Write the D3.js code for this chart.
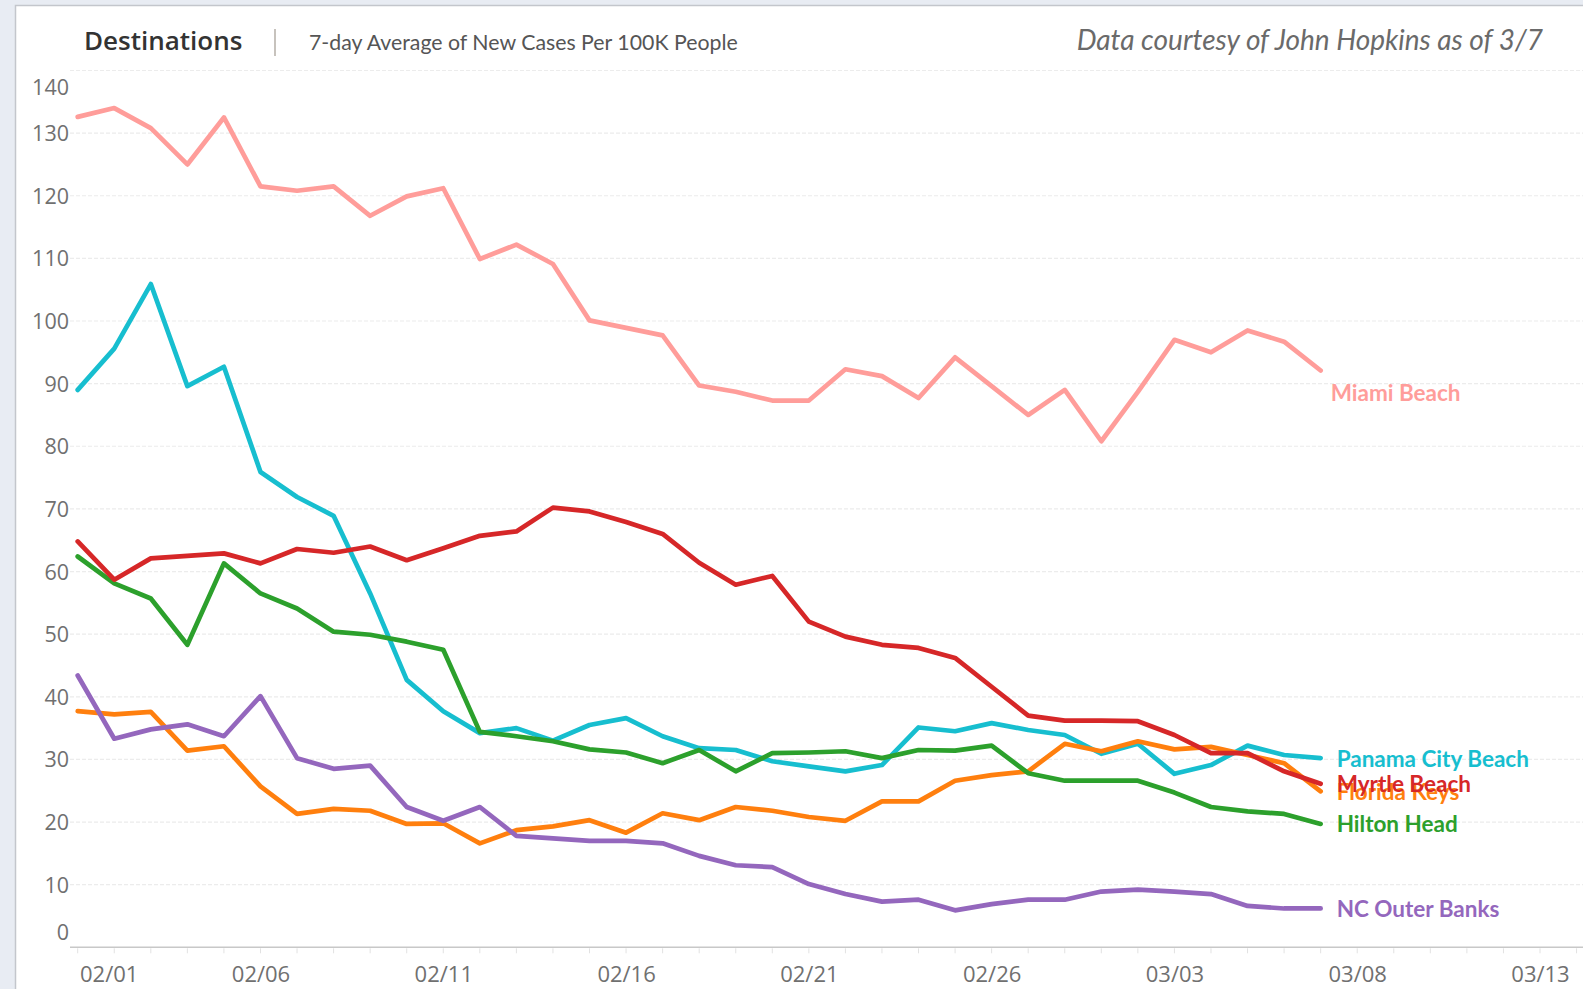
<!DOCTYPE html>
<html>
<head>
<meta charset="utf-8">
<script src="https://cdn.jsdelivr.net/npm/d3@7"></script>
<style>
    body { margin: 0; background: #e8ecf3; overflow: hidden; }
    #chart { width: 1583px; height: 989px; }
</style>
</head>
<body>
<div id="chart"></div>
<script>
// variables definition
const width = 1583
const height = 989
const margin = {
    top: 70.5,
    bottom: 41.7,
    left: 77.7,
    right: 43
}

// data
const dates = ["02/01","02/02","02/03","02/04","02/05","02/06","02/07","02/08","02/09","02/10",
    "02/11","02/12","02/13","02/14","02/15","02/16","02/17","02/18","02/19","02/20",
    "02/21","02/22","02/23","02/24","02/25","02/26","02/27","02/28","03/01","03/02",
    "03/03","03/04","03/05","03/06","03/07"]
const xTickLabels = ["02/01","02/06","02/11","02/16","02/21","02/26","03/03","03/08","03/13"]
const yTicks = [0, 10, 20, 30, 40, 50, 60, 70, 80, 90, 100, 110, 120, 130, 140]

const destinations = ["Panama City Beach", "Florida Keys", "Hilton Head", "Myrtle Beach", "NC Outer Banks", "Miami Beach"]
const colors = ["#17becf", "#ff7f0e", "#2ca02c", "#d62728", "#9467bd", "#ff9d9a"]

const panamaCityBeach = [89.0, 95.6, 105.9, 89.6, 92.7, 75.9, 71.9, 68.9, 56.5, 42.7, 37.7, 34.2, 35.0, 33.0, 35.5, 36.6, 33.7, 31.8, 31.5, 29.7, 28.9, 28.1, 29.1, 35.1, 34.5, 35.8, 34.7, 33.9, 30.9, 32.5, 27.7, 29.1, 32.2, 30.7, 30.2]
const floridaKeys = [37.7, 37.2, 37.6, 31.4, 32.1, 25.7, 21.3, 22.1, 21.8, 19.7, 19.8, 16.6, 18.7, 19.3, 20.3, 18.3, 21.4, 20.3, 22.4, 21.8, 20.8, 20.2, 23.3, 23.3, 26.6, 27.5, 28.1, 32.5, 31.3, 32.9, 31.6, 32.0, 30.7, 29.4, 24.9]
const hiltonHead = [62.4, 58.1, 55.7, 48.3, 61.3, 56.5, 54.1, 50.4, 49.9, 48.8, 47.5, 34.4, 33.7, 32.9, 31.6, 31.1, 29.4, 31.5, 28.1, 31.0, 31.1, 31.3, 30.2, 31.5, 31.4, 32.2, 27.8, 26.6, 26.6, 26.6, 24.7, 22.4, 21.7, 21.3, 19.7]
const myrtleBeach = [64.8, 58.7, 62.1, 62.5, 62.9, 61.3, 63.6, 63.0, 64.0, 61.8, 63.7, 65.7, 66.4, 70.2, 69.6, 67.9, 66.0, 61.4, 57.9, 59.3, 52.0, 49.6, 48.3, 47.8, 46.2, 41.6, 37.0, 36.2, 36.2, 36.1, 33.9, 31.0, 31.0, 28.1, 26.1]
const ncOuterBanks = [43.4, 33.3, 34.8, 35.6, 33.7, 40.1, 30.2, 28.5, 29.0, 22.4, 20.2, 22.4, 17.8, 17.4, 17.0, 17.0, 16.6, 14.6, 13.1, 12.8, 10.1, 8.5, 7.3, 7.6, 5.9, 6.9, 7.6, 7.6, 8.9, 9.2, 8.9, 8.5, 6.6, 6.2, 6.2]
const miamiBeach = [132.6, 134.0, 130.8, 125.0, 132.5, 121.5, 120.8, 121.5, 116.8, 119.9, 121.2, 109.9, 112.2, 109.1, 100.1, 98.9, 97.7, 89.7, 88.7, 87.3, 87.3, 92.3, 91.2, 87.7, 94.2, 89.6, 85.0, 89.0, 80.8, 88.7, 97.0, 95.0, 98.5, 96.7, 92.1]

const seriesValues = [panamaCityBeach, floridaKeys, hiltonHead, myrtleBeach, ncOuterBanks, miamiBeach]

// "MM/DD" -> date in 2021
const parseDay = s => new Date(Date.UTC(2021, +s.slice(0, 2) - 1, +s.slice(3, 5)))

const series = destinations.map((name, i) => ({
    name: name,
    color: colors[i],
    values: seriesValues[i].map((v, j) => ({ date: parseDay(dates[j]), value: v }))
}))

// svg
const svg = d3.select("#chart").append("svg").attr("width", width).attr("height", height)

// white panel
svg.append("rect")
    .attr("x", 15.5).attr("y", 5.5)
    .attr("width", width).attr("height", height)
    .attr("fill", "#ffffff")
    .attr("stroke", "#c3c6cc")
    .attr("stroke-width", 1.5)

// scales
const x = d3.scaleUtc()
    .domain([parseDay("02/01"), parseDay("03/13")])
    .range([margin.left, width - margin.right])
const y = d3.scaleLinear()
    .domain([0, 140])
    .range([height - margin.bottom, margin.top])

const gridLeft = 70

// gridlines
svg.append("g").attr("id", "grid")
    .selectAll("line").data(yTicks.filter(d => d > 0)).enter().append("line")
    .attr("x1", gridLeft).attr("x2", width)
    .attr("y1", d => y(d)).attr("y2", d => y(d))
    .attr("stroke", "#ececec")
    .attr("stroke-width", 1.2)
    .attr("stroke-dasharray", "4,2")

// y axis
const yGroup = svg.append("g").attr("id", "yGroup")
    .attr("transform", `translate(${69}, 0)`)
    .call(d3.axisLeft(y).tickValues(yTicks).tickSize(0).tickPadding(0))
yGroup.select(".domain").remove()
yGroup.selectAll("text")
    .attr("x", 0)
    .attr("dy", "0.35em")
    .style("font-family", "'Open Sans', sans-serif")
    .style("font-size", "21.5px")
    .attr("fill", "#707070")
    .attr("transform", d => d === 140 ? "translate(0,16.5)" : d === 0 ? "translate(0,-15.5)" : null)

// x axis
const xGroup = svg.append("g").attr("id", "xGroup")
    .attr("transform", `translate(0, ${y(0)})`)
    .call(d3.axisBottom(x).tickValues(xTickLabels.map(parseDay)).tickSize(0).tickPadding(0)
        .tickFormat(d3.utcFormat("%m/%d")))
xGroup.select(".domain").remove()
xGroup.append("line")
    .attr("x1", gridLeft).attr("x2", width)
    .attr("y1", 0).attr("y2", 0)
    .attr("stroke", "#c8c8c8")
    .attr("stroke-width", 1.6)
xGroup.selectAll(".dayTick").data(d3.utcDay.range(parseDay("02/01"), parseDay("03/15"))).enter().append("line")
    .attr("class", "dayTick")
    .attr("x1", d => x(d)).attr("x2", d => x(d))
    .attr("y1", 1).attr("y2", 6)
    .attr("stroke", "#e2e2e2")
    .attr("stroke-width", 1)
xGroup.selectAll(".tick text")
    .attr("y", 27)
    .attr("dy", "0.35em")
    .style("font-family", "'Open Sans', sans-serif")
    .style("font-size", "22px")
    .attr("fill", "#707070")
// keep first label inside the pane
xGroup.selectAll(".tick text").each(function () {
    const t = d3.select(this)
    const tick = d3.select(this.parentNode)
    const tx = +tick.attr("transform").match(/translate\(([-\d.]+)/)[1]
    const w = this.getComputedTextLength()
    if (tx - w / 2 < 80) t.attr("text-anchor", "start").attr("x", 80 - tx)
})

// lines
const line = d3.line().x(d => x(d.date)).y(d => y(d.value))
svg.append("g").attr("id", "lines")
    .selectAll("path").data(series).enter().append("path")
    .attr("d", d => line(d.values))
    .attr("fill", "none")
    .attr("stroke", d => d.color)
    .attr("stroke-width", 4.7)
    .attr("stroke-linejoin", "round")
    .attr("stroke-linecap", "round")

// end labels
svg.append("g").attr("id", "labels")
    .selectAll("text").data(series).enter().append("text")
    .attr("x", d => x(d.values[d.values.length - 1].date) + (d.name === "Miami Beach" ? 10 : 16))
    .attr("y", d => y(d.values[d.values.length - 1].value) + (d.name === "Miami Beach" ? 22.5 : 0.5))
    .attr("dy", "0.35em")
    .attr("fill", d => d.color)
    .style("font-family", "Lato, sans-serif")
    .style("font-weight", "bold")
    .style("font-size", "22.5px")
    .text(d => d.name)

// header
svg.append("text")
    .attr("x", 84).attr("y", 41).attr("dy", "0.35em")
    .style("font-family", "'Open Sans', sans-serif")
    .style("font-weight", "600")
    .style("font-size", "26px")
    .attr("fill", "#333333")
    .text("Destinations")
svg.append("line")
    .attr("x1", 275).attr("x2", 275)
    .attr("y1", 29).attr("y2", 56)
    .attr("stroke", "#a9a29a")
    .attr("stroke-width", 1.3)
svg.append("text")
    .attr("x", 309).attr("y", 42.5).attr("dy", "0.35em")
    .style("font-family", "Lato, sans-serif")
    .style("font-size", "21.3px")
    .attr("fill", "#555555")
    .text("7-day Average of New Cases Per 100K People")
svg.append("text")
    .attr("x", 1543).attr("y", 40.5).attr("dy", "0.35em")
    .attr("text-anchor", "end")
    .style("font-family", "Lato, sans-serif")
    .style("font-style", "italic")
    .style("font-size", "28px")
    .attr("fill", "#6a6a6a")
    .text("Data courtesy of John Hopkins as of 3/7")
</script>
</body>
</html>
